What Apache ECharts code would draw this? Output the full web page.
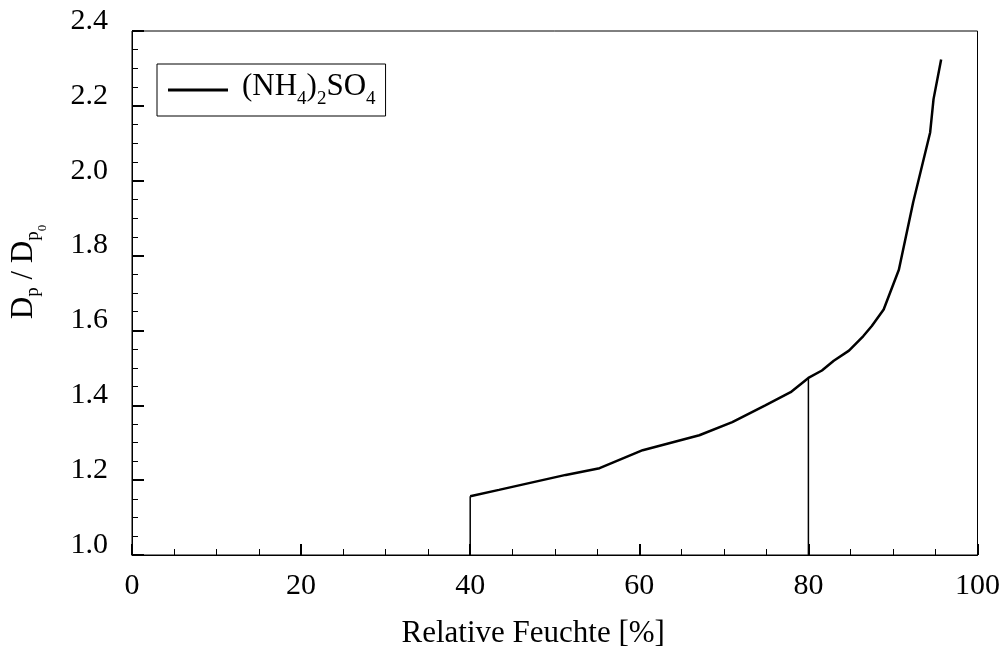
<!DOCTYPE html>
<html><head><meta charset="utf-8">
<script src="https://cdn.jsdelivr.net/npm/echarts@6/dist/echarts.min.js"></script>
<style>html,body{margin:0;padding:0;background:#fff}#c{width:1003px;height:654px}</style>
</head><body><div id="c"></div>
<script>
// Growth curve (NH4)2SO4 : relative humidity [%] vs Dp/Dp0
var curveX = [40.0, 43.4, 51.3, 55.3, 60.4, 67.1, 71.0, 74.9, 77.9, 80.0, 81.6, 83.0, 84.8, 86.5, 87.5, 88.9, 90.7, 92.4, 94.4, 94.8, 95.7];
var curveY = [1.157, 1.174, 1.214, 1.232, 1.280, 1.320, 1.355, 1.400, 1.435, 1.473, 1.493, 1.519, 1.546, 1.585, 1.612, 1.656, 1.762, 1.943, 2.129, 2.218, 2.324];
// efflorescence step at 40 %, deliquescence step at 80 %
var effloX = [40, 40];
var effloY = [1.0, 1.157];
var deliqX = [80, 80];
var deliqY = [1.0, 1.473];
var xTicks = [0, 20, 40, 60, 80, 100];
var yTicks = [1.0, 1.2, 1.4, 1.6, 1.8, 2.0, 2.2, 2.4];

function pairs(xs, ys) { return xs.map(function (x, i) { return [x, ys[i]]; }); }

var FONT = 'Liberation Serif';
var chart = echarts.init(document.getElementById('c'), null, { renderer: 'canvas' });
chart.setOption({
  animation: false,
  backgroundColor: '#fff',
  grid: { left: 132, right: 24, top: 31, bottom: 95, show: true, borderColor: '#000', borderWidth: 1, backgroundColor: 'transparent' },
  legend: {
    left: 157, top: 64,
    padding: [7, 10, 7, 11],
    borderColor: '#000', borderWidth: 1,
    itemWidth: 60, itemHeight: 3, icon: 'rect',
    data: [{ name: '(NH4)2SO4' }],
    formatter: function () { return '{f|(NH}{b|4}{a|)}{b|2}{a|SO}{b|4}'; },
    textStyle: {
      color: '#000', fontFamily: FONT,
      rich: {
        f: { fontFamily: FONT, fontSize: 31, color: '#000', padding: [0, 0, 7, 9], verticalAlign: 'bottom' },
        a: { fontFamily: FONT, fontSize: 31, color: '#000', padding: [0, 0, 7, 0], verticalAlign: 'bottom' },
        b: { fontFamily: FONT, fontSize: 19, color: '#000', verticalAlign: 'bottom' }
      }
    }
  },
  xAxis: {
    type: 'value', min: 0, max: 100, interval: 20,
    name: 'Relative Feuchte [%]', nameLocation: 'middle', nameGap: 63,
    nameTextStyle: { fontFamily: FONT, fontSize: 31, color: '#000', padding: [0, 43, 0, 0] },
    axisLine: { show: true, lineStyle: { color: '#000', width: 1 } },
    axisTick: { show: true, inside: true, length: 11, lineStyle: { color: '#000', width: 2 } },
    minorTick: { show: true, splitNumber: 4, length: 6, lineStyle: { color: '#000', width: 1 } },
    splitLine: { show: false },
    axisLabel: { fontFamily: FONT, fontSize: 30, color: '#000', margin: 16,
      formatter: function (v) { return xTicks.indexOf(v) >= 0 ? String(v) : ''; } }
  },
  yAxis: {
    type: 'value', min: 1.0, max: 2.4, interval: 0.2,
    axisLine: { show: true, lineStyle: { color: '#000', width: 1 } },
    axisTick: { show: true, inside: true, length: 12, lineStyle: { color: '#000', width: 2 } },
    minorTick: { show: true, splitNumber: 4, length: 6, lineStyle: { color: '#000', width: 1 } },
    splitLine: { show: false },
    axisLabel: { fontFamily: FONT, fontSize: 30, color: '#000', margin: 24, verticalAlign: 'bottom', lineHeight: 20,
      formatter: function (v) { return v.toFixed(1); } }
  },
  graphic: [{
    type: 'text', x: 29, y: 272, rotation: Math.PI / 2,
    style: {
      text: '{D|D}{s|p}{D| / D}{s|p}{z|0}',
      align: 'center', verticalAlign: 'middle',
      rich: {
        D: { fontFamily: FONT, fontSize: 31, fill: '#000', padding: [0, 0, 10, 0], verticalAlign: 'bottom' },
        s: { fontFamily: FONT, fontSize: 19, fill: '#000', padding: [0, 0, 7, 0], verticalAlign: 'bottom' },
        z: { fontFamily: FONT, fontSize: 13, fill: '#000', verticalAlign: 'bottom' }
      }
    }
  }],
  series: [
    { name: '(NH4)2SO4', type: 'line', data: pairs(curveX, curveY), symbol: 'none',
      lineStyle: { color: '#000', width: 2.5 }, itemStyle: { color: '#000' }, z: 3 },
    { name: 'efflo', type: 'line', data: pairs(effloX, effloY), symbol: 'none',
      lineStyle: { color: '#000', width: 1.5 }, z: 2 },
    { name: 'deliq', type: 'line', data: pairs(deliqX, deliqY), symbol: 'none',
      lineStyle: { color: '#000', width: 1.5 }, z: 2 }
  ]
});
</script></body></html>
